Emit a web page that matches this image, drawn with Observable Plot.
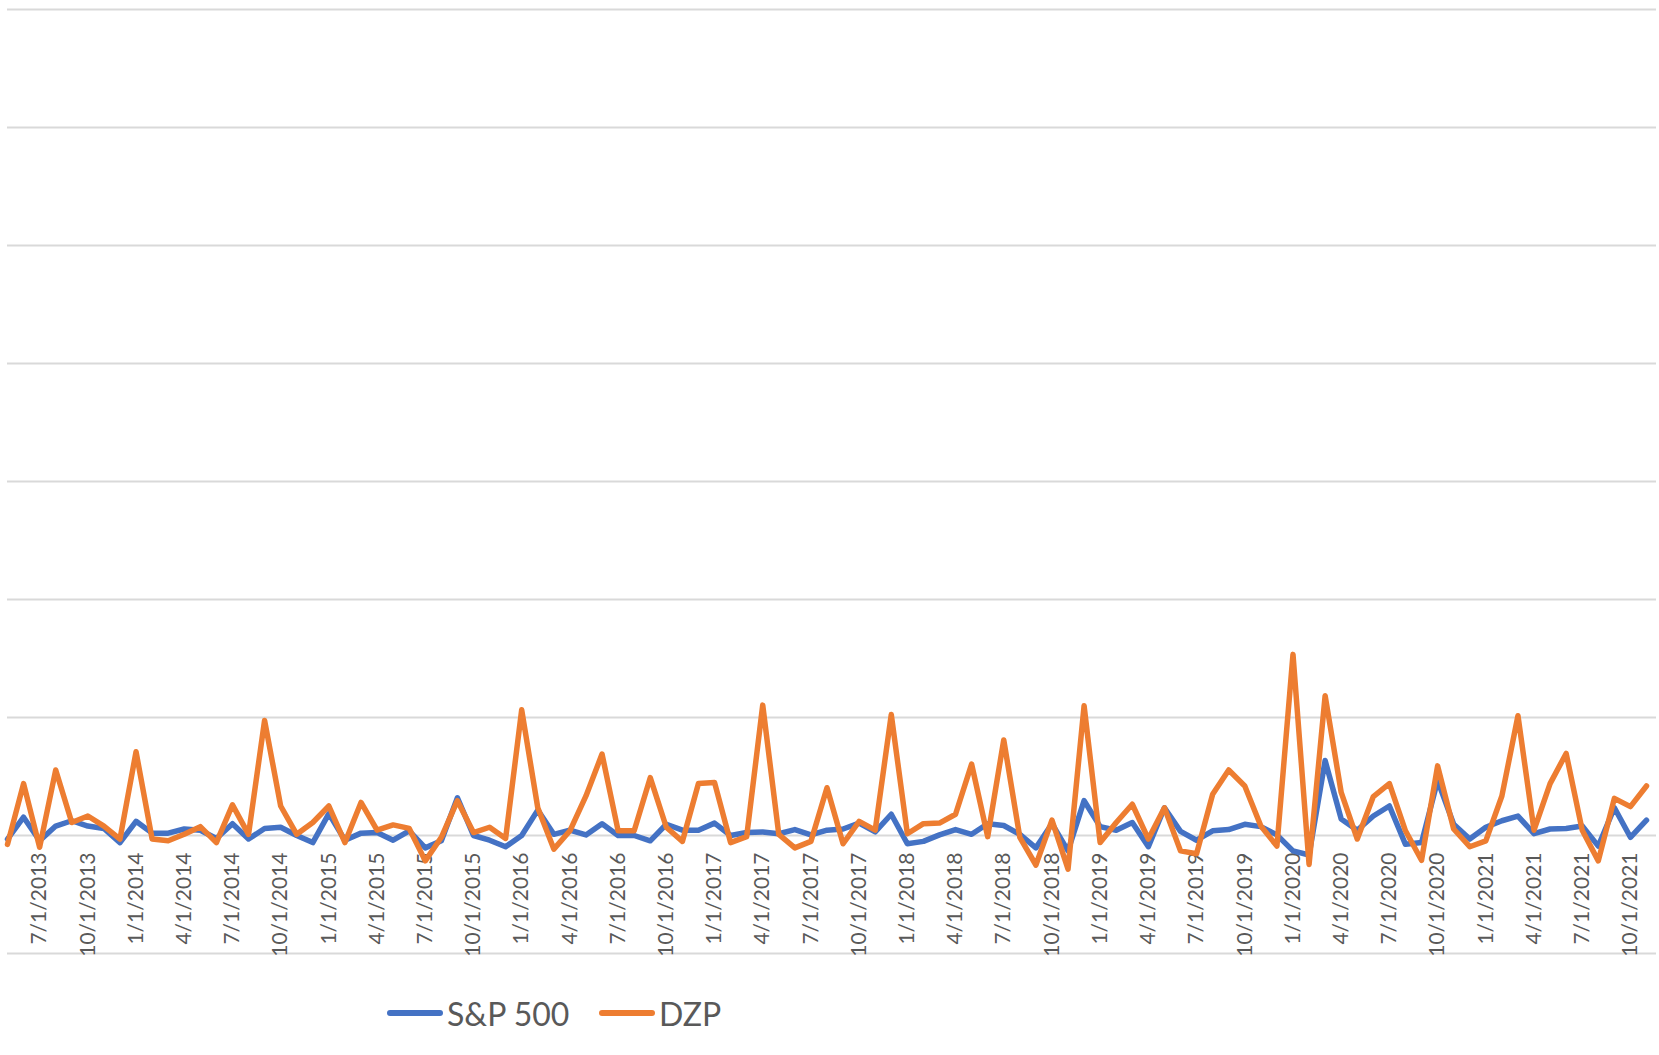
<!DOCTYPE html>
<html>
<head>
<meta charset="utf-8">
<script src="https://cdn.jsdelivr.net/npm/d3@7"></script>
<script src="https://cdn.jsdelivr.net/npm/@observablehq/plot@0.6"></script>
<style>
  html, body { margin: 0; padding: 0; background: #fff; }
  #chart { position: relative; width: 1659px; height: 1055px; font-family: Lato, "Open Sans", sans-serif; }
  #chart svg { display: block; }
  .key { position: absolute; top: 993px; height: 40px; display: flex; align-items: center; font-size: 32px; color: #595959; white-space: nowrap; }
  .key .swatch { width: 56px; height: 6px; border-radius: 3px; margin-right: 4px; }
</style>
</head>
<body>
<div id="chart"></div>
<script>
// Monthly values, May 2013 – Nov 2021 (percent)
const months = d3.utcMonth.range(new Date(Date.UTC(2013, 4, 1)), new Date(Date.UTC(2021, 11, 1)))
  .map(d => `${d.getUTCMonth() + 1}/1/${d.getUTCFullYear()}`);

const sp500 = [
  -0.6, 3.1, -0.9, 1.6, 2.5, 1.6, 1.2, -1.2, 2.4, 0.4, 0.4, 1.1, 0.9, -0.5, 2.0, -0.6,
  1.2, 1.4, 0.0, -1.2, 3.7, -0.8, 0.4, 0.5, -0.8, 0.8, -2.1, -0.9, 6.4, 0.0, -0.8, -1.9,
  0.0, 4.3, 0.2, 0.9, 0.1, 2.0, 0.0, 0.0, -0.9, 1.9, 0.9, 0.9, 2.1, 0.0, 0.5, 0.6,
  0.3, 1.0, 0.1, 0.9, 1.1, 2.1, 0.6, 3.6, -1.4, -1.0, 0.1, 1.0, 0.2, 2.0, 1.7, 0.2,
  -2.1, 2.0, -2.6, 5.9, 1.5, 0.9, 2.2, -1.9, 4.7, 0.7, -0.8, 0.8, 1.0, 1.9, 1.5, 0.1,
  -2.6, -3.3, 12.7, 2.8, 0.9, 3.3, 5.0, -1.5, -1.2, 9.3, 1.9, -0.6, 1.4, 2.5, 3.3, 0.3,
  1.1, 1.2, 1.6, -1.8, 4.7, -0.3, 2.6
];

const dzp = [
  -1.5, 8.8, -2.0, 11.1, 2.2, 3.3, 1.6, -0.6, 14.2, -0.6, -0.9, 0.2, 1.5, -1.2, 5.2, 0.2,
  19.5, 5.0, 0.2, 2.2, 5.0, -1.2, 5.6, 0.9, 1.8, 1.2, -4.3, -0.3, 5.9, 0.5, 1.4, -0.5,
  21.3, 4.7, -2.3, 0.8, 6.7, 13.8, 0.8, 0.8, 9.8, 1.4, -1.0, 8.8, 9.0, -1.2, -0.2, 22.1,
  0.2, -2.1, -1.0, 8.1, -1.4, 2.4, 0.9, 20.5, 0.3, 2.0, 2.1, 3.6, 12.1, -0.2, 16.2, -0.3,
  -5.0, 2.6, -5.7, 22.0, -1.2, 2.2, 5.3, -0.6, 4.7, -2.6, -3.1, 7.0, 11.1, 8.4, 1.6, -1.8,
  30.7, -4.9, 23.7, 7.3, -0.6, 6.6, 8.8, 0.8, -4.2, 11.8, 1.1, -1.9, -0.9, 6.7, 20.3, 0.9,
  8.8, 13.9, 0.9, -4.3, 6.3, 4.9, 8.4
];

const tickLabels = [
  "7/1/2013", "10/1/2013", "1/1/2014", "4/1/2014", "7/1/2014", "10/1/2014",
  "1/1/2015", "4/1/2015", "7/1/2015", "10/1/2015", "1/1/2016", "4/1/2016",
  "7/1/2016", "10/1/2016", "1/1/2017", "4/1/2017", "7/1/2017", "10/1/2017",
  "1/1/2018", "4/1/2018", "7/1/2018", "10/1/2018", "1/1/2019", "4/1/2019",
  "7/1/2019", "10/1/2019", "1/1/2020", "4/1/2020", "7/1/2020", "10/1/2020",
  "1/1/2021", "4/1/2021", "7/1/2021", "10/1/2021"
];

const gridValues = [-20, 0, 20, 40, 60, 80, 100, 120, 140];

const seriesKeys = [
  { name: "S&P 500", color: "#4472c4", values: sp500 },
  { name: "DZP", color: "#ed7d31", values: dzp }
];

// Months are evenly spaced categories: position each one by its index
const rows = seriesKeys.flatMap(s => s.values.map((v, i) => ({ series: s.name, month: months[i], pos: i, value: v })));
const ticks = tickLabels.map(label => ({ label, pos: months.indexOf(label) }));

const chart = Plot.plot({
  width: 1659,
  height: 975,
  marginLeft: 7,
  marginRight: 3,
  marginTop: 9,
  marginBottom: 22,
  x: { type: "linear", domain: [0, months.length - 1], range: [7, 1646], axis: null },
  y: { domain: [-20, 140], axis: null },
  color: { domain: seriesKeys.map(s => s.name), range: seriesKeys.map(s => s.color) },
  marks: [
    Plot.ruleY(gridValues, { stroke: "#d9d9d9", strokeWidth: 2 }),
    Plot.text(ticks, {
      x: "pos",
      y: () => 0,
      text: "label",
      rotate: -90,
      textAnchor: "end",
      dy: 17,
      fontSize: 21,
      fontFamily: "Lato, 'Open Sans', sans-serif",
      fill: "#595959"
    }),
    Plot.line(rows, {
      x: "pos",
      y: "value",
      z: "series",
      stroke: "series",
      strokeWidth: 5.5,
      strokeLinejoin: "round",
      strokeLinecap: "round"
    })
  ]
});

const root = document.getElementById("chart");
root.appendChild(chart);

// Legend below the plot
const keyLeft = [387, 599];
seriesKeys.forEach((s, i) => {
  const item = document.createElement("div");
  item.className = "key";
  item.style.left = keyLeft[i] + "px";
  const sw = document.createElement("span");
  sw.className = "swatch";
  sw.style.background = s.color;
  const label = document.createElement("span");
  label.textContent = s.name;
  item.appendChild(sw);
  item.appendChild(label);
  root.appendChild(item);
});
</script>
</body>
</html>
